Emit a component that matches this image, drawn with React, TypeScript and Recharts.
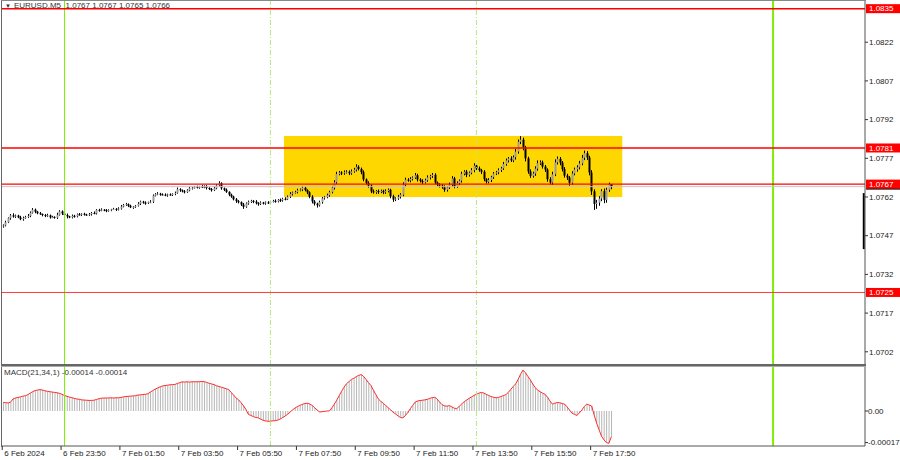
import React from 'react'
import { ComposedChart, Bar, Line, XAxis, YAxis, ReferenceLine, ReferenceArea } from 'recharts'

// prices are stored as pips above 1.0700 (62.0 = 1.07620)
const BASE = 1.07
const FIRST_OPEN = 50.6

const closes = [
  51.0, 52.2, 53.8, 54.9, 54.4, 54.8, 54.1, 53.4, 53.9, 54.3,
  54.7, 55.9, 57.1, 56.3, 55.7, 55.4, 55.0, 54.6, 54.9, 54.1,
  54.3, 54.0, 55.1, 56.4, 55.6, 55.0, 54.5, 54.1, 54.7, 54.5,
  55.3, 55.1, 55.5, 55.2, 55.0, 55.3, 55.8, 55.6, 57.0, 56.8,
  57.1, 56.9, 56.6, 56.9, 57.2, 57.4, 57.1, 57.5, 58.3, 58.9,
  59.2, 58.6, 58.0, 58.2, 58.6, 59.4, 60.2, 59.8, 59.6, 60.0,
  60.2, 62.5, 63.1, 63.3, 63.0, 62.9, 62.7, 63.0, 62.8, 63.2,
  63.6, 65.0, 64.6, 64.2, 63.9, 64.6, 65.4, 65.6, 65.9, 65.7,
  66.0, 65.8, 66.1, 65.5, 65.1, 64.6, 65.4, 66.5, 67.3, 65.4,
  64.8, 64.0, 62.9, 62.2, 61.1, 60.4, 60.0, 59.1, 58.2, 59.5,
  60.1, 60.5, 60.2, 59.6, 59.3, 59.8, 59.6, 59.9, 59.7, 60.2,
  60.5, 60.3, 60.9, 60.7, 61.3, 61.1, 62.1, 63.2, 63.7, 63.9,
  64.6, 64.9, 65.6, 64.7, 63.8, 62.1, 60.3, 59.4, 58.8, 60.0,
  61.5, 61.9, 62.7, 63.9, 65.6, 67.7, 70.9, 71.5, 71.2, 71.6,
  71.8, 71.2, 71.9, 72.6, 73.7, 72.9, 71.6, 68.8, 67.5, 66.4,
  64.2, 63.8, 64.3, 64.0, 64.4, 63.8, 64.3, 64.8, 62.3, 61.0,
  61.4, 62.1, 62.9, 66.8, 68.7, 68.4, 69.0, 69.5, 70.4, 68.8,
  68.2, 67.7, 68.5, 69.6, 70.1, 70.6, 67.6, 66.9, 66.4, 65.8,
  64.8, 65.7, 66.8, 69.2, 66.1, 67.4, 68.3, 71.0, 71.8, 70.6,
  71.4, 72.4, 74.2, 73.1, 72.4, 71.8, 68.9, 67.9, 68.6, 69.7,
  71.1, 71.6, 72.4, 73.1, 74.8, 76.2, 76.9, 76.2, 77.4, 79.6,
  83.4, 84.2, 81.1, 77.0, 71.9, 70.2, 71.1, 73.0, 75.1, 75.4,
  73.8, 72.6, 68.9, 67.6, 70.8, 75.4, 76.8, 75.3, 72.8, 70.3,
  69.5, 67.5, 71.1, 72.7, 73.5, 75.0, 77.2, 79.0, 77.3, 71.5,
  64.2, 59.3, 59.8, 61.4, 64.3, 60.9, 64.8, 67.0, 66.0,
]

const upWicks = [
  0.4, 0.6, 0.3, 0.5, 0.8, 0.4, 0.3, 0.6, 0.5, 0.4,
  0.7, 0.5, 0.6, 0.4, 0.3, 0.5, 0.2, 0.4, 0.6, 0.3,
  0.4, 0.2, 0.8, 0.5, 0.4, 0.3, 0.6, 0.2, 0.5, 0.4,
  0.3, 0.5, 0.2, 0.4, 0.3, 0.5, 0.4, 0.6, 0.3, 0.4,
  0.5, 0.2, 0.4, 0.3, 0.2, 0.4, 0.3, 0.5, 0.6, 0.4,
  0.5, 0.3, 0.4, 0.2, 0.3, 0.6, 0.4, 0.3, 0.5, 0.2,
  0.6, 0.5, 0.4, 0.6, 0.3, 0.4, 0.5, 0.3, 0.4, 0.2,
  0.5, 0.7, 0.4, 0.3, 0.5, 0.4, 0.6, 0.3, 0.4, 0.5,
  0.3, 0.6, 0.4, 0.5, 0.3, 0.4, 0.6, 0.5, 0.8, 0.4,
  0.3, 0.5, 0.2, 0.4, 0.3, 0.5, 0.4, 0.3, 0.6, 0.4,
  0.5, 0.4, 0.3, 0.6, 0.4, 0.5, 0.3, 0.4, 0.5, 0.3,
  0.4, 0.6, 0.3, 0.5, 0.4, 0.6, 0.5, 0.7, 0.4, 0.5,
  0.6, 0.4, 0.7, 0.5, 0.3, 0.4, 0.6, 0.5, 0.4, 0.6,
  0.5, 0.4, 0.6, 0.5, 0.7, 0.8, 0.9, 0.6, 0.5, 0.7,
  0.6, 0.5, 0.8, 0.7, 1.0, 0.6, 0.5, 0.7, 0.4, 0.6,
  0.5, 0.7, 0.4, 0.6, 0.5, 0.4, 0.7, 0.5, 0.4, 0.6,
  0.5, 0.7, 0.6, 0.9, 0.8, 0.6, 0.7, 0.5, 0.9, 0.6,
  0.5, 0.7, 0.6, 0.8, 0.5, 0.7, 0.6, 0.4, 0.5, 0.6,
  0.7, 0.5, 0.8, 0.9, 0.6, 0.7, 0.5, 0.8, 0.6, 0.7,
  0.5, 0.8, 0.9, 0.6, 0.7, 0.5, 0.6, 0.4, 0.7, 0.5,
  0.6, 0.5, 0.7, 0.6, 0.8, 0.7, 0.6, 0.9, 0.7, 1.0,
  0.9, 1.4, 0.8, 0.7, 0.6, 0.8, 0.7, 0.9, 1.1, 0.8,
  0.7, 0.6, 0.5, 0.8, 1.0, 1.2, 0.9, 0.7, 0.6, 0.8,
  0.7, 0.6, 0.9, 0.7, 0.8, 1.0, 1.1, 1.0, 0.8, 0.7,
  0.9, 0.8, 1.1, 0.9, 0.7, 1.0, 0.8, 0.6, 0.0,
]

const downWicks = [
  0.5, 0.4, 0.3, 0.6, 0.4, 0.5, 0.3, 0.4, 0.6, 0.3,
  0.4, 0.5, 0.3, 0.6, 0.4, 0.3, 0.5, 0.4, 0.3, 0.5,
  0.3, 0.4, 0.5, 0.3, 0.6, 0.4, 0.8, 0.3, 0.4, 0.5,
  0.4, 0.3, 0.5, 0.4, 0.3, 0.4, 0.5, 0.3, 0.4, 0.5,
  0.3, 0.4, 0.5, 0.3, 0.4, 0.2, 0.5, 0.3, 0.4, 0.3,
  0.4, 0.5, 0.3, 0.6, 0.4, 0.3, 0.5, 0.4, 0.6, 0.3,
  0.4, 0.5, 0.3, 0.4, 0.5, 0.3, 0.4, 0.6, 0.3, 0.4,
  0.5, 0.3, 0.6, 0.4, 0.5, 0.3, 0.4, 0.5, 0.3, 0.4,
  0.5, 0.3, 0.4, 0.6, 0.4, 0.5, 0.3, 0.4, 0.5, 0.6,
  0.5, 0.4, 0.6, 0.5, 0.4, 0.7, 0.5, 0.6, 0.8, 0.4,
  0.5, 0.4, 0.6, 0.5, 0.7, 0.4, 0.5, 0.6, 0.4, 0.5,
  0.3, 0.5, 0.4, 0.6, 0.5, 0.4, 0.3, 0.5, 0.6, 0.4,
  0.5, 0.4, 0.6, 0.5, 0.7, 0.6, 0.8, 0.7, 0.9, 0.5,
  0.6, 0.5, 0.4, 0.6, 0.5, 0.7, 0.6, 0.5, 0.7, 0.6,
  0.5, 0.7, 0.6, 0.5, 0.7, 0.6, 0.8, 0.7, 0.6, 0.8,
  0.7, 0.5, 0.6, 0.8, 0.5, 0.7, 0.6, 0.5, 0.8, 0.9,
  0.6, 0.5, 0.7, 0.6, 0.8, 0.5, 0.7, 0.6, 0.5, 0.8,
  0.6, 0.7, 0.5, 0.6, 0.8, 0.7, 0.6, 0.8, 0.7, 0.6,
  0.8, 0.7, 0.6, 0.9, 0.7, 0.6, 0.8, 0.7, 0.6, 0.9,
  0.7, 0.6, 0.8, 0.7, 0.6, 0.9, 0.8, 0.7, 0.6, 0.8,
  0.7, 0.6, 0.8, 0.7, 0.6, 0.7, 0.8, 0.6, 0.7, 0.9,
  0.8, 0.9, 1.0, 1.2, 0.9, 0.8, 0.7, 0.9, 0.8, 0.7,
  0.8, 0.9, 1.0, 0.8, 0.9, 0.7, 0.8, 1.0, 0.9, 0.8,
  0.9, 1.1, 0.8, 0.7, 0.9, 0.8, 0.7, 0.9, 1.0, 1.1,
  1.4, 2.3, 1.9, 1.2, 1.0, 1.3, 1.1, 0.8, 1.0,
]

// MACD(21,34,1) main value, in units of 0.00001
const macd = [
  4.6, 4.5, 4.3, 4.8, 6.5, 7.0, 7.3, 7.6, 8.0, 8.2,
  8.8, 9.6, 10.4, 11.0, 11.3, 11.5, 11.3, 10.9, 10.6, 10.4,
  10.2, 10.0, 9.8, 9.5, 9.0, 8.3, 7.9, 7.5, 7.2, 6.8,
  6.5, 6.3, 6.0, 5.9, 5.8, 5.7, 5.7, 5.8, 6.2, 6.6,
  6.9, 7.0, 7.0, 7.0, 7.1, 7.0, 7.1, 7.1, 7.3, 7.6,
  7.8, 7.9, 8.0, 8.1, 8.3, 8.6, 8.7, 8.9, 9.0, 9.3,
  10.2, 11.0, 11.8, 12.4, 13.0, 13.5, 13.7, 13.9, 14.1, 14.2,
  14.3, 14.8, 15.3, 15.7, 15.6, 15.7, 15.6, 15.7, 15.8, 15.7,
  15.8, 15.9, 15.8, 15.4, 14.9, 14.6, 14.2, 13.6, 13.2, 12.8,
  12.4, 12.0, 11.5, 10.0, 8.5, 7.0, 6.0, 4.5, 2.8, 0.8,
  -1.8, -2.4, -3.0, -3.5, -3.7, -4.4, -5.0, -5.4, -5.5, -5.5,
  -5.3, -5.2, -4.9, -4.3, -3.5, -2.7, -1.8, -0.6, 0.6, 1.6,
  2.4, 3.0, 3.6, 4.0, 4.2, 3.8, 3.0, 1.8, 0.6, -0.5,
  -0.4, -0.2, 0.0, 0.0, 1.6, 3.6, 5.8, 8.2, 10.6, 12.8,
  14.7, 15.8, 17.0, 17.6, 18.5, 19.2, 19.6, 18.6, 17.0, 15.2,
  13.7, 11.2, 8.8, 6.5, 5.2, 4.2, 3.0, 1.8, 0.6, -0.6,
  -1.6, -2.6, -3.5, -3.7, -2.5, -0.9, 1.2, 3.0, 4.8, 5.4,
  5.6, 5.8, 6.0, 6.3, 6.8, 7.2, 7.4, 6.4, 4.8, 3.4,
  2.8, 2.6, 2.9, 2.2, 1.5, 1.3, 2.5, 3.8, 5.0, 5.9,
  6.8, 7.6, 8.4, 9.0, 9.6, 10.0, 9.7, 9.0, 8.4, 7.8,
  7.4, 7.1, 7.3, 7.8, 8.3, 8.8, 10.0, 11.6, 13.2, 14.6,
  17.0, 19.8, 22.0, 20.6, 18.6, 16.8, 14.5, 12.6, 11.2, 10.4,
  9.6, 9.0, 7.4, 5.4, 3.7, 4.2, 4.6, 4.4, 4.0, 3.7,
  2.2, 0.5, -1.2, -1.8, -2.4, -1.0, 0.5, 2.4, 3.7, 3.2,
  2.7, -2.0, -6.4, -10.0, -13.5, -15.5, -17.0, -17.4, -14.0,
]

const SLOTS = 352 // bars that fit in the window, incl. empty space on the right
const timeTicks = [0, 24, 48, 72, 96, 120, 144, 168, 192, 216, 240]
const timeLabels = ['6 Feb 2024', '6 Feb 23:50', '7 Feb 01:50', '7 Feb 03:50', '7 Feb 05:50', '7 Feb 07:50',
  '7 Feb 09:50', '7 Feb 11:50', '7 Feb 13:50', '7 Feb 15:50', '7 Feb 17:50']
const priceTicks = [137, 122, 107, 92, 77, 62, 47, 32, 17, 2]
const macdTicks = [21, 0, -17]
const levels = [135, 81, 67, 25]
const BID = 66
const dayLines = [25, 314]
const sessionLines = [109, 193]
const box = { x1: 115, x2: 252, y1: 62, y2: 85.6 }
const volBar = { x: 351, y1: 63.5, y2: 41.8 }

const rows = Array.from({ length: SLOTS }, (_, i) => {
  if (i >= closes.length) return { i, range: null, macd: null }
  const open = i === 0 ? FIRST_OPEN : closes[i - 1]
  const close = closes[i]
  const high = Math.max(open, close) + upWicks[i]
  const low = Math.min(open, close) - downWicks[i]
  return { i, open, close, high, low, range: [low, high], macd: macd[i] }
})

const FONT = '"Liberation Sans", Arial, sans-serif'
const fmt = (v: number) => (BASE + v / 10000).toFixed(4)

function Candle(props: any) {
  const { x, y, width, height, payload } = props
  if (!payload || payload.high == null) return null
  const top = Math.min(y, y + height)
  const h = Math.abs(height)
  const { open, close, high, low } = payload
  const span = high - low || 1
  const py = (v: number) => top + ((high - v) / span) * h
  const cx = Math.round(x + width / 2) + 0.5
  const yo = py(open)
  const yc = py(close)
  const bt = Math.min(yo, yc)
  const bh = Math.max(Math.abs(yo - yc), 1)
  return (
    <g>
      <line x1={cx} x2={cx} y1={top} y2={top + h} stroke="#000" strokeWidth={1} />
      <rect x={cx - 1} y={bt} width={2} height={bh} fill={close >= open ? '#9c9c9c' : '#000'} />
    </g>
  )
}

const PriceTick = ({ x, y, payload }: any) => (
  <g>
    <line x1={x} x2={x + 3} y1={y} y2={y} stroke="#333" />
    <text x={x + 4} y={y} dy="0.35em" fontSize={8} fontFamily={FONT} fill="#222">{fmt(payload.value)}</text>
  </g>
)

const MacdTick = ({ x, y, payload }: any) => {
  const v = payload.value
  const s = v === 0 ? '0.00' : (v / 100000).toFixed(5)
  return (
    <g>
      <line x1={x} x2={x + 3} y1={y} y2={y} stroke="#333" />
      <text x={x + 3} y={y} dy="0.35em" fontSize={8} fontFamily={FONT} fill="#222">{s}</text>
    </g>
  )
}

const TimeTick = ({ x, y, payload }: any) => {
  const k = timeTicks.indexOf(payload.value)
  const tx = x - 1
  return (
    <g>
      <line x1={tx} x2={tx} y1={y} y2={y + 4} stroke="#333" />
      <text x={tx + 2} y={y + 10} fontSize={8} fontFamily={FONT} fill="#222">{timeLabels[k]}</text>
    </g>
  )
}

const priceTag = (text: string, bg: string) => ({ viewBox }: any) => (
  <g>
    <rect x={viewBox.x + viewBox.width + 1} y={viewBox.y - 4.5} width={34} height={9} fill={bg} />
    <text x={viewBox.x + viewBox.width + 4} y={viewBox.y} dy="0.35em" fontSize={8} fontFamily={FONT} fill="#fff">{text}</text>
  </g>
)

// the bid marker sits almost entirely under the 1.0767 tag; only its lower edge shows
const bidStrip = ({ viewBox }: any) => (
  <rect x={viewBox.x + viewBox.width + 1} y={viewBox.y + 1} width={34} height={2} fill="#222" />
)

export default function App() {
  return (
    <div style={{ position: 'absolute', left: 0, top: 0, width: 900, height: 460, background: '#fff', overflow: 'hidden' }}>
      <div style={{ position: 'absolute', left: 0, top: 366 }}>
        <ComposedChart width={900} height={93} data={rows} margin={{ top: 1, right: 0, bottom: 0, left: 2 }} barCategoryGap={0}>
          <XAxis dataKey="i" type="category" ticks={timeTicks} interval={0} tick={<TimeTick />} tickLine={false}
            tickSize={0} tickMargin={0} height={13} axisLine={{ stroke: '#555' }} />
          <YAxis orientation="right" width={35} domain={[-18.85, 23.7]} ticks={macdTicks} type="number"
            allowDataOverflow tick={<MacdTick />} tickLine={false} tickSize={0} tickMargin={0} axisLine={{ stroke: '#555' }} />
          <Bar dataKey="macd" barSize={1} fill="#b5b5b5" isAnimationActive={false} />
          <Line dataKey="macd" stroke="#ff2a2a" strokeWidth={1} dot={false} isAnimationActive={false} />
          {dayLines.map((d, k) => <ReferenceLine key={'d' + d} x={d} stroke="#7cf000" strokeWidth={k === 1 ? 2 : 1} />)}
          {sessionLines.map((d) => <ReferenceLine key={'s' + d} x={d} stroke="#b4e87a" strokeDasharray="5 2 1 2" />)}
        </ComposedChart>
      </div>
      <div style={{ position: 'absolute', left: 0, top: 0 }}>
        <ComposedChart width={900} height={366} data={rows} margin={{ top: 0, right: 0, bottom: 1, left: 2 }} barCategoryGap={0}>
          <XAxis dataKey="i" type="category" hide />
          <YAxis orientation="right" width={35} domain={[-3.12, 138.36]} ticks={priceTicks} type="number"
            allowDataOverflow tick={<PriceTick />} tickLine={false} tickSize={0} tickMargin={0} axisLine={{ stroke: '#555' }} />
          <ReferenceArea x1={box.x1} x2={box.x2} y1={box.y1} y2={box.y2} fill="#ffd700" fillOpacity={1} stroke="none" />
          {dayLines.map((d, k) => <ReferenceLine key={'d' + d} x={d} stroke="#7cf000" strokeWidth={k === 1 ? 2 : 1} />)}
          {sessionLines.map((d) => <ReferenceLine key={'s' + d} x={d} stroke="#b4e87a" strokeDasharray="5 2 1 2" />)}
          <ReferenceLine y={BID} stroke="#c4c4c4" label={bidStrip} />
          <ReferenceLine y={levels[0]} stroke="#ff0000" strokeWidth={1.5} label={priceTag(fmt(levels[0]), '#ff0000')} />
          <ReferenceLine y={levels[1]} stroke="#ff0000" strokeWidth={1.5} label={priceTag(fmt(levels[1]), '#ff0000')} />
          <ReferenceLine y={levels[2]} stroke="#ff0000" strokeWidth={1.2} label={priceTag(fmt(levels[2]), '#ff0000')} />
          <ReferenceLine y={levels[3]} stroke="#ff3b3b" strokeWidth={1} label={priceTag(fmt(levels[3]), '#ff0000')} />
          <ReferenceLine segment={[{ x: volBar.x, y: volBar.y1 }, { x: volBar.x, y: volBar.y2 }]} stroke="#000" strokeWidth={2} />
          <Bar dataKey="range" barSize={2} shape={(p: any) => <Candle {...p} />} isAnimationActive={false} />
        </ComposedChart>
      </div>
      {/* window frame */}
      <div style={{ position: 'absolute', left: 1, top: 0, width: 1, height: 447, background: '#666' }} />
      <div style={{ position: 'absolute', left: 1, top: 0, width: 865, height: 1, background: '#888' }} />
      <div style={{ position: 'absolute', left: 1, top: 364, width: 865, height: 2, background: '#666' }} />
      <div style={{ position: 'absolute', left: 1, top: 366, width: 865, height: 1, background: '#aaa' }} />
      <div style={{ position: 'absolute', left: 5, top: 1, fontSize: 8, fontFamily: FONT, color: '#333', whiteSpace: 'pre', lineHeight: '10px' }}>
        <span style={{ fontSize: 6, marginRight: 3 }}>▼</span>EURUSD,M5  1.0767 1.0767 1.0765 1.0766
      </div>
      <div style={{ position: 'absolute', left: 4, top: 368, fontSize: 8, fontFamily: FONT, color: '#333', whiteSpace: 'pre', lineHeight: '10px' }}>
        MACD(21,34,1) -0.00014 -0.00014
      </div>
    </div>
  )
}
